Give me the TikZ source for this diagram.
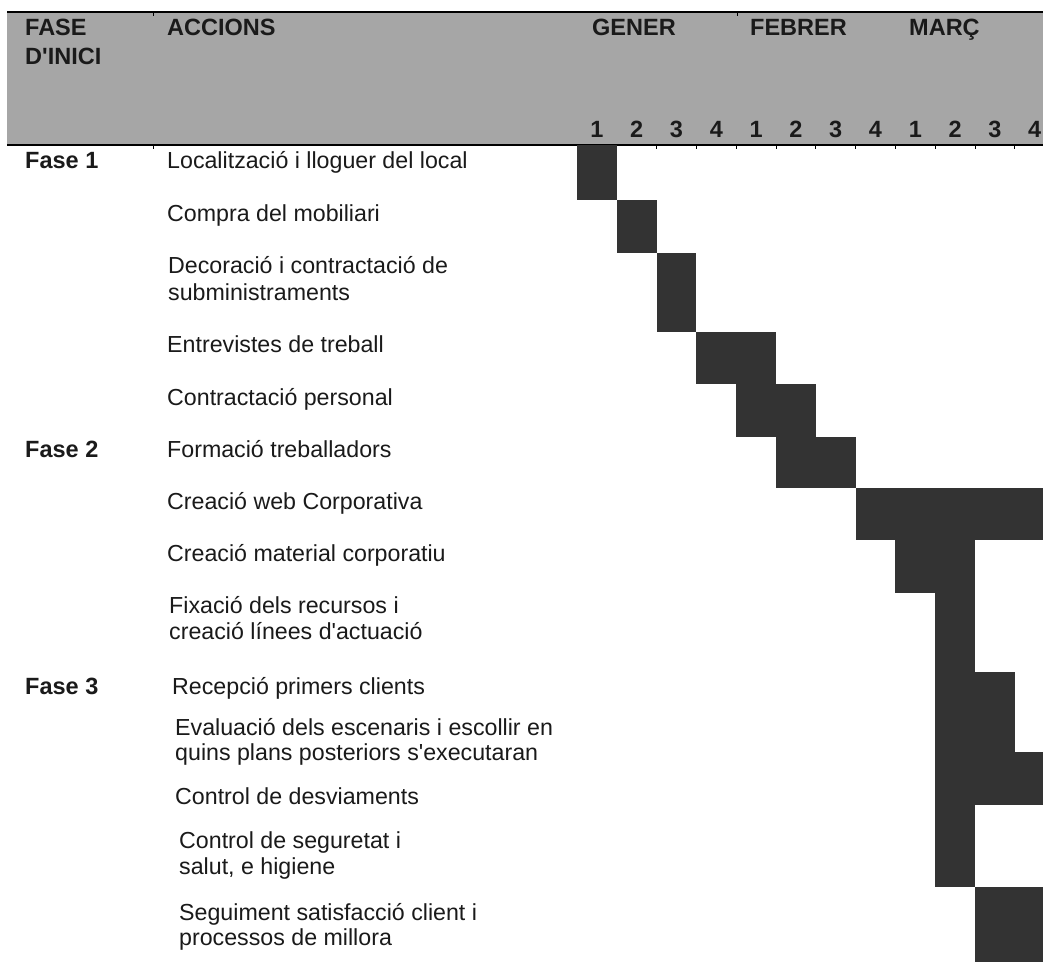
\documentclass[tikz,border=0pt]{standalone}
\usepackage{fontspec}
\setmainfont{Liberation Sans}[Ligatures=TeXOff]
\definecolor{hdrgray}{HTML}{A6A6A6}
\definecolor{barcol}{HTML}{333333}
\definecolor{txt}{HTML}{1A1A1A}
\begin{document}
\begin{tikzpicture}[x=1pt,y=-1pt,
  act/.style={anchor=base west, inner sep=0pt, font=\fontsize{23.2}{27}\selectfont, text=txt},
  hdr/.style={anchor=base west, inner sep=0pt, font=\fontsize{23.5}{27}\selectfont\bfseries, text=txt},
  num/.style={anchor=base, inner sep=0pt, font=\fontsize{23.5}{27}\selectfont\bfseries, text=txt},
  ganttbar/.style={fill=barcol, draw=none},
  tickmark/.style={line width=1pt, draw=black}]
\useasboundingbox (0,0) rectangle (1043,962);
\fill[white] (0,0) rectangle (1043,962);
% header band
\fill[hdrgray] (7,12) rectangle (1043,145);
\draw[line width=1.5pt] (7,12) -- (1043,12);
\draw[line width=2pt] (7,145) -- (1043,145);
\draw[tickmark] (153,12) -- (153,16);
\draw[tickmark] (737,12) -- (737,16);
\draw[tickmark] (153,145) -- (153,149);
\foreach \k in {3,...,12} \draw[tickmark] ({577+39.8*(\k-1)},145) -- ({577+39.8*(\k-1)},149);
% header texts
\node[hdr] (fase) at (25,35) {FASE};
\node[hdr] (inici) at (25,64) {D'INICI};
\node[hdr] (accions) at (167,35) {ACCIONS};
\node[hdr] (gener) at (592,35) {GENER};
\node[hdr] (febrer) at (750,35) {FEBRER};
\node[hdr] (marc) at (909,35) {MARÇ};
\foreach \k/\n in {1/1,2/2,3/3,4/4,5/1,6/2,7/3,8/4,9/1,10/2,11/3,12/4}
  \node[num] (w\k) at ({577+39.8*(\k-0.5)},137.5) {\n};
% gantt bars
\fill[ganttbar] (577,145) rectangle (616.8,200);
\fill[ganttbar] (616.8,200) rectangle (656.6,253);
\fill[ganttbar] (656.6,253) rectangle (696.4,332);
\fill[ganttbar] (696.4,332) rectangle (776,384);
\fill[ganttbar] (736.2,384) rectangle (815.8,437);
\fill[ganttbar] (776,437) rectangle (855.6,488);
\fill[ganttbar] (855.6,488) rectangle (1043,540);
\fill[ganttbar] (895.4,540) rectangle (975,593);
\fill[ganttbar] (935.2,593) rectangle (975,887);
\fill[ganttbar] (975,672) rectangle (1014.8,805);
\fill[ganttbar] (1014.8,752) rectangle (1043,805);
\fill[ganttbar] (975,887) rectangle (1043,962);
% phases
\node[hdr] (f1) at (25,168) {Fase 1};
\node[hdr] (f2) at (25,457) {Fase 2};
\node[hdr] (f3) at (25,694) {Fase 3};
% actions
\node[act] (a1) at (167,168) {Localització i lloguer del local};
\node[act] (a2) at (167,221) {Compra del mobiliari};
\node[act] (a3) at (168,273) {Decoració i contractació de};
\node[act] (a3b) at (168,300) {subministraments};
\node[act] (a4) at (167,352) {Entrevistes de treball};
\node[act] (a5) at (167,405) {Contractació personal};
\node[act] (a6) at (167,457) {Formació treballadors};
\node[act] (a7) at (167,509) {Creació web Corporativa};
\node[act] (a8) at (167,561) {Creació material corporatiu};
\node[act] (a9) at (169,613) {Fixació dels recursos i};
\node[act] (a9b) at (169,639) {creació línees d'actuació};
\node[act] (a10) at (172,694) {Recepció primers clients};
\node[act] (a11) at (175,735) {Evaluació dels escenaris i escollir en};
\node[act] (a11b) at (175,760) {quins plans posteriors s'executaran};
\node[act] (a12) at (175,804) {Control de desviaments};
\node[act] (a13) at (179,848) {Control de seguretat i};
\node[act] (a13b) at (179,874) {salut, e higiene};
\node[act] (a14) at (179,920) {Seguiment satisfacció client i};
\node[act] (a14b) at (179,945) {processos de millora};
\end{tikzpicture}
\end{document}
